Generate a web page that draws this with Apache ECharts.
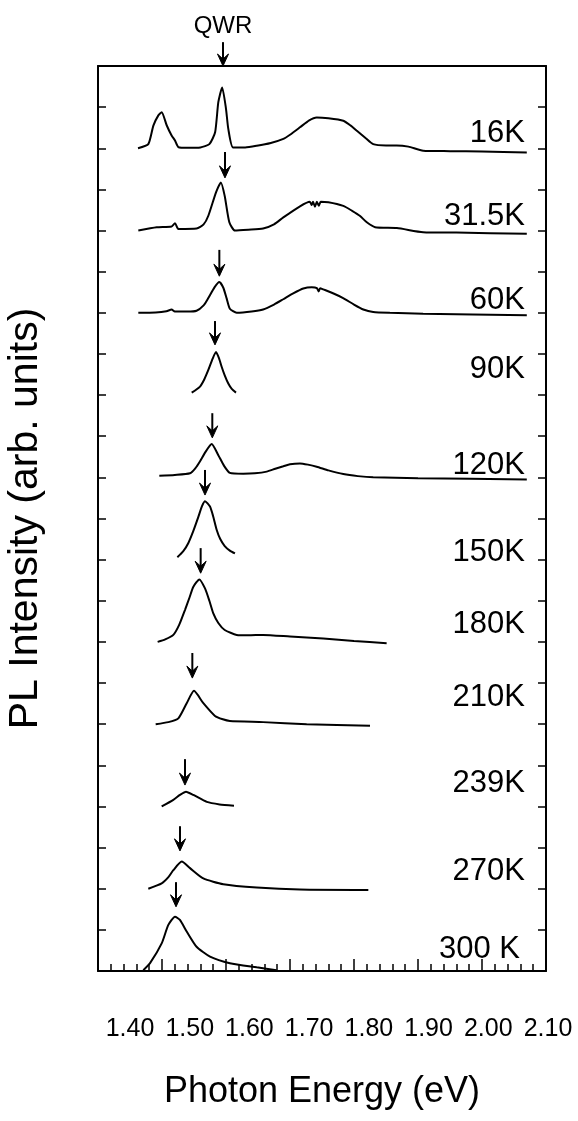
<!DOCTYPE html>
<html>
<head>
<meta charset="utf-8">
<script src="https://cdn.jsdelivr.net/npm/echarts@6/dist/echarts.min.js"></script>
<style>
html, body { margin: 0; padding: 0; background: #fff; }
#chart { width: 578px; height: 1121px; }
</style>
</head>
<body>
<div id="chart"></div>
<script>
document.addEventListener('DOMContentLoaded', function() {

/* ESPECTROS: [energia eV, intensidad relativa a su linea base] */
var s16K = [[1.4625,0.0],[1.4786,0.1],[1.4865,0.55],[1.4943,0.80],[1.4995,0.875],[1.5073,0.56],[1.515,0.31],[1.5203,0.19],[1.5255,0.03],[1.540,0.01],[1.560,0.02],[1.574,0.1],[1.583,0.39],[1.588,1.12],[1.594,1.48],[1.600,0.96],[1.6036,0.47],[1.611,0.02],[1.630,0.02],[1.648,0.06],[1.670,0.13],[1.6896,0.23],[1.700,0.33],[1.7156,0.51],[1.730,0.68],[1.7417,0.75],[1.760,0.73],[1.7833,0.67],[1.795,0.55],[1.804,0.43],[1.818,0.25],[1.830,0.10],[1.850,0.07],[1.8667,0.07],[1.885,0.04],[1.908,-0.06],[1.95,-0.07],[2.00,-0.08],[2.07,-0.1]];
var s31K = [[1.463,0],[1.4917,0.08],[1.515,0.1],[1.5203,0.18],[1.5255,0.04],[1.554,0.05],[1.565,0.15],[1.5724,0.36],[1.5844,0.93],[1.592,1.17],[1.598,0.84],[1.6052,0.2],[1.614,0],[1.635,0.02],[1.658,0.05],[1.675,0.15],[1.6896,0.32],[1.7156,0.59],[1.731,0.70],[1.734,0.62],[1.736,0.70],[1.739,0.58],[1.742,0.70],[1.745,0.60],[1.748,0.70],[1.760,0.69],[1.7833,0.6],[1.797,0.48],[1.809,0.36],[1.820,0.2],[1.833,0.08],[1.867,0.06],[1.908,-0.04],[1.96,-0.05],[2.07,-0.08]];
var s60K = [[1.463,0],[1.490,0.01],[1.507,0.04],[1.515,0.08],[1.520,0.03],[1.540,0.03],[1.554,0.05],[1.565,0.18],[1.5724,0.36],[1.582,0.62],[1.5896,0.75],[1.5958,0.61],[1.601,0.35],[1.606,0.1],[1.6167,0],[1.640,0.03],[1.658,0.08],[1.675,0.2],[1.6896,0.33],[1.705,0.47],[1.7208,0.59],[1.734,0.62],[1.742,0.60],[1.7449,0.52],[1.747,0.60],[1.752,0.57],[1.768,0.47],[1.783,0.36],[1.800,0.2],[1.8146,0.08],[1.830,0.02],[1.856,0],[1.908,-0.02],[2.07,-0.06]];
var s90K = [[1.5464,0.06],[1.559,0.2],[1.566,0.38],[1.5724,0.61],[1.579,0.88],[1.5844,1.05],[1.589,0.9],[1.5932,0.69],[1.598,0.48],[1.6036,0.28],[1.609,0.15],[1.6156,0.06]];
var s120K = [[1.4958,0.04],[1.52,0.06],[1.5438,0.1],[1.552,0.22],[1.559,0.38],[1.568,0.62],[1.5776,0.81],[1.588,0.54],[1.597,0.28],[1.606,0.11],[1.627,0.09],[1.645,0.1],[1.6636,0.14],[1.677,0.21],[1.6896,0.27],[1.700,0.32],[1.7156,0.34],[1.728,0.31],[1.7417,0.26],[1.760,0.17],[1.7833,0.08],[1.806,0.03],[1.830,0],[1.90,-0.02],[2.07,-0.05]];
var s150K = [[1.524,0.06],[1.533,0.2],[1.541,0.40],[1.549,0.7],[1.5568,1.04],[1.5625,1.3],[1.5672,1.42],[1.575,1.29],[1.580,1.05],[1.5855,0.72],[1.591,0.5],[1.598,0.33],[1.606,0.22],[1.614,0.15]];
var s180K = [[1.4932,0],[1.505,0.06],[1.5177,0.17],[1.527,0.42],[1.536,0.78],[1.543,1.08],[1.549,1.34],[1.5583,1.52],[1.5672,1.30],[1.574,1.0],[1.580,0.70],[1.588,0.46],[1.598,0.29],[1.6167,0.17],[1.635,0.16],[1.658,0.17],[1.700,0.13],[1.752,0.08],[1.80,0.02],[1.851,-0.03]];
var s210K = [[1.4901,0],[1.510,0.05],[1.5255,0.14],[1.5386,0.51],[1.550,0.81],[1.5646,0.51],[1.5828,0.2],[1.595,0.12],[1.606,0.08],[1.658,0.05],[1.726,0],[1.825,-0.04]];
var s239K = [[1.4995,0],[1.5177,0.16],[1.528,0.28],[1.5375,0.36],[1.549,0.28],[1.570,0.11],[1.590,0.05],[1.6125,0.02]];
var s270K = [[1.4786,0],[1.4995,0.13],[1.510,0.28],[1.5177,0.45],[1.5308,0.66],[1.5438,0.5],[1.5646,0.25],[1.5958,0.11],[1.648,0.03],[1.7156,-0.02],[1.8224,-0.03]];
var s300K = [[1.4708,0.02],[1.4813,0.19],[1.4995,0.67],[1.5099,1.12],[1.5203,1.32],[1.528,1.24],[1.5386,0.96],[1.554,0.59],[1.575,0.35],[1.606,0.19],[1.648,0.09],[1.679,0.02]];

var spectra = [s16K, s31K, s60K, s90K, s120K, s150K, s180K, s210K, s239K, s270K, s300K];
var baseOffsets = [20, 18, 16, 14, 12, 10, 8, 6, 4, 2, 0];

/* ETIQUETAS DE TEMPERATURA */
var tempLabels = ['16K', '31.5K', '60K', '90K', '120K', '150K', '180K', '210K', '239K', '270K', '300 K'];
var labelE = [2.0672, 2.0672, 2.0672, 2.0672, 2.0672, 2.0672, 2.0672, 2.0672, 2.0672, 2.0672, 2.0594];
var labelY = [20.35, 18.34, 16.31, 14.63, 12.28, 10.17, 8.43, 6.65, 4.57, 2.43, 0.53];

/* FLECHAS DEL PICO QWR */
var arrowE = [1.5953, 1.5984, 1.5896, 1.5828, 1.5786, 1.5672, 1.5604, 1.5474, 1.5359, 1.5281, 1.5219];
var arrowTail = [22.58, 19.91, 17.53, 15.80, 13.56, 12.18, 10.28, 7.73, 5.15, 3.52, 2.16];
var arrowTip = [22.0, 19.28, 16.89, 15.22, 12.96, 11.57, 9.67, 7.12, 4.52, 2.92, 1.56];
var arrowNote = ['QWR', '', '', '', '', '', '', '', '', '', ''];

var xTickLabels = ['1.40', '1.50', '1.60', '1.70', '1.80', '1.90', '2.00', '2.10'];

var font = 'Liberation Sans, Arial, sans-serif';
var ink = '#000';

var chartDom = document.getElementById('chart');
var myChart = echarts.init(chartDom, null, { renderer: 'canvas' });

var series = spectra.map(function(pts, i) {
	return {
		type: 'line',
		xAxisIndex: 0,
		yAxisIndex: 0,
		data: pts.map(function(p) { return [p[0], baseOffsets[i] + p[1]]; }),
		showSymbol: false,
		symbol: 'none',
		smooth: 0.2,
		lineStyle: { color: ink, width: 2 },
		silent: true
	};
});

// etiquetas de temperatura
series.push({
	type: 'scatter',
	xAxisIndex: 0,
	yAxisIndex: 0,
	symbolSize: 0,
	silent: true,
	itemStyle: { opacity: 1, color: ink },
	data: tempLabels.map(function(t, i) { return [labelE[i], labelY[i], t]; }),
	label: {
		show: true,
		position: 'left',
		distance: 0,
		formatter: function(p) { return p.value[2]; },
		fontSize: 31,
		fontFamily: font,
		color: ink,
		opacity: 1
	}
});

// flechas
series.push({
	type: 'custom',
	xAxisIndex: 0,
	yAxisIndex: 0,
	clip: false,
	silent: true,
	data: arrowE.map(function(e, i) { return [e, arrowTail[i], arrowTip[i], arrowNote[i]]; }),
	renderItem: function(params, api) {
		var tail = api.coord([api.value(0), api.value(1)]);
		var tip = api.coord([api.value(0), api.value(2)]);
		var kids = [
			{ type: 'line', shape: { x1: tail[0], y1: tail[1], x2: tip[0], y2: tip[1] - 4 },
			  style: { stroke: ink, lineWidth: 2 } },
			{ type: 'polygon', shape: { points: [[tip[0], tip[1]], [tip[0] - 5.5, tip[1] - 12], [tip[0], tip[1] - 7], [tip[0] + 5.5, tip[1] - 12]] },
			  style: { fill: ink, stroke: ink, lineWidth: 1 } }
		];
		var note = arrowNote[params.dataIndex];
		if (note) {
			kids.push({ type: 'text', x: tail[0], y: tail[1] - 4,
				style: { text: note, align: 'center', verticalAlign: 'bottom', fontSize: 24, fontFamily: font, fill: ink } });
		}
		return { type: 'group', children: kids };
	}
});

var frameLine = { show: true, onZero: false, lineStyle: { color: ink, width: 2 } };

var option = {
	animation: false,
	backgroundColor: '#fff',
	grid: [
		{ left: 98, right: 32, top: 66, bottom: 150, outerBoundsMode: 'none', containLabel: false },
		{ left: 130, right: 30, top: 1005, height: 5, outerBoundsMode: 'none', containLabel: false }
	],
	xAxis: [
		{
			gridIndex: 0, type: 'value', min: 1.4, max: 2.1, interval: 0.1, position: 'bottom',
			axisLine: frameLine,
			axisTick: { show: true, inside: true, length: 12, lineStyle: { color: ink, width: 1.5 } },
			minorTick: { show: true, splitNumber: 5, length: 7, lineStyle: { color: ink, width: 1.5 } },
			axisLabel: { show: false },
			splitLine: { show: false },
			name: 'Photon Energy (eV)', nameLocation: 'middle', nameGap: 103,
			nameTextStyle: { fontSize: 36, fontFamily: font, color: ink }
		},
		{
			gridIndex: 0, type: 'value', min: 1.4, max: 2.1, position: 'top',
			axisLine: frameLine, axisTick: { show: false }, axisLabel: { show: false }, splitLine: { show: false }
		},
		{
			gridIndex: 1, type: 'category', data: xTickLabels, boundaryGap: false, position: 'bottom',
			axisLine: { show: false }, axisTick: { show: false },
			axisLabel: { interval: 0, fontSize: 25, margin: 7, fontFamily: font, color: ink }
		}
	],
	yAxis: [
		{
			gridIndex: 0, type: 'value', min: 0, max: 22, interval: 1, position: 'left',
			axisLine: frameLine,
			axisTick: { show: true, inside: true, length: 8, lineStyle: { color: ink, width: 1.5 } },
			axisLabel: { show: false }, splitLine: { show: false },
			name: 'PL Intensity (arb. units)', nameLocation: 'middle', nameGap: 52,
			nameTextStyle: { fontSize: 41, fontFamily: font, color: ink }
		},
		{
			gridIndex: 0, type: 'value', min: 0, max: 22, interval: 1, position: 'right',
			axisLine: frameLine,
			axisTick: { show: true, inside: true, length: 8, lineStyle: { color: ink, width: 1.5 } },
			axisLabel: { show: false }, splitLine: { show: false }
		},
		{ gridIndex: 1, type: 'value', show: false }
	],
	series: series
};

myChart.setOption(option);

});
</script>
</body>
</html>
